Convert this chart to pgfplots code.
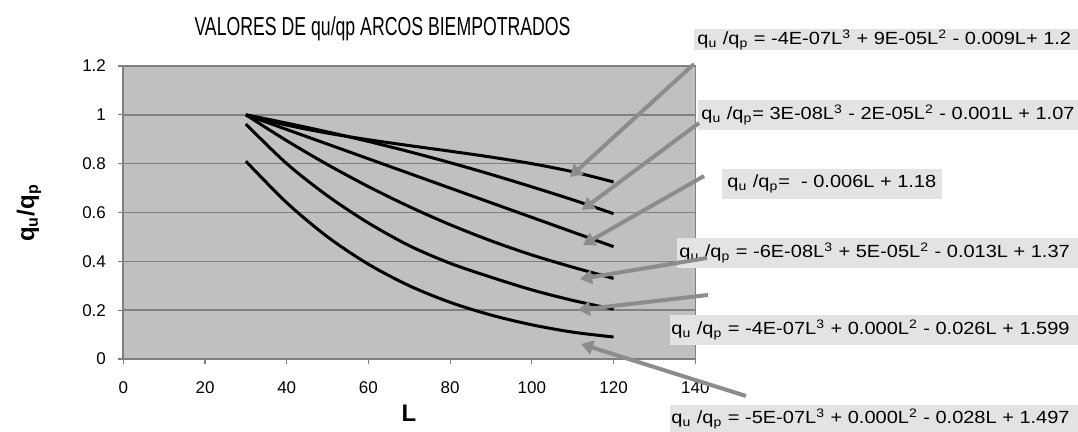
\documentclass[border=0pt]{standalone}
\usepackage{fontspec}
\setmainfont{Liberation Sans}
\usepackage{pgfplots}
\pgfplotsset{compat=1.18}
\usetikzlibrary{arrows.meta}

\definecolor{plotbg}{HTML}{C0C0C0}
\definecolor{gridc}{HTML}{808080}
\definecolor{arrowc}{HTML}{8C8C8C}
\definecolor{boxc}{HTML}{E3E3E3}
\newcommand{\eqfont}{\fontsize{10}{12}\selectfont}
\newcommand{\qq}{q\textsubscript{u} /q\textsubscript{p}}

\begin{document}
\begin{tikzpicture}
\begin{axis}[
  scale only axis, width=286pt, height=146.5pt,
  xmin=0, xmax=140, ymin=0, ymax=1.2,
  xtick={0,20,40,60,80,100,120,140},
  ytick={0,0.2,0.4,0.6,0.8,1,1.2},
  axis background/.style={fill=plotbg},
  ymajorgrids, grid style={gridc, line width=0.7pt},
  axis line style={gridc, line width=0.8pt},
  tick align=outside, tick pos=left, major tick length=2.5pt,
  tick style={gridc, line width=0.6pt},
  /pgf/number format/assume math mode=true,
  ticklabel style={font=\fontsize{8.5}{10}\selectfont},
  xticklabel style={anchor=center, yshift=-12pt},
  yticklabel style={anchor=east, inner sep=0pt, xshift=-6pt},
  clip=false,
]
% curves, L = 30 ... 120
\addplot[black, line width=1.5pt, smooth, no markers] coordinates {
  (30,1.000) (40,0.958) (50,0.925) (60,0.898) (70,0.874)
  (80,0.851) (90,0.827) (100,0.800) (110,0.767) (120,0.725)};
\addplot[black, line width=1.5pt, smooth, no markers] coordinates {
  (30,1.000) (40,0.966) (50,0.930) (60,0.891) (70,0.849)
  (80,0.804) (90,0.756) (100,0.705) (110,0.652) (120,0.595)};
\addplot[black, line width=1.5pt, smooth, no markers] coordinates {
  (30,1.000) (40,0.940) (50,0.880) (60,0.820) (70,0.760)
  (80,0.700) (90,0.640) (100,0.580) (110,0.520) (120,0.460)};
\addplot[black, line width=1.5pt, smooth, no markers] coordinates {
  (30,1.000) (40,0.894) (50,0.796) (60,0.706) (70,0.624)
  (80,0.550) (90,0.484) (100,0.426) (110,0.376) (120,0.330)};
\addplot[black, line width=1.5pt, smooth, no markers] coordinates {
  (30,0.962) (40,0.800) (50,0.668) (60,0.557) (70,0.464)
  (80,0.392) (90,0.335) (100,0.283) (110,0.240) (120,0.204)};
\addplot[black, line width=1.5pt, smooth, no markers] coordinates {
  (30,0.810) (40,0.640) (50,0.500) (60,0.388) (70,0.300)
  (80,0.232) (90,0.180) (100,0.140) (110,0.110) (120,0.090)};
\end{axis}

% annotations in pixel units of the original picture
\begin{scope}[x=0.5pt, y=-0.5pt, shift={(-123.3,-359)}]
  \node[font=\fontsize{13}{14}\selectfont] at (382.5,28.5)
    {\scalebox{0.68}[1]{VALORES DE qu/qp ARCOS BIEMPOTRADOS}};
  \node[rotate=90, font=\bfseries\fontsize{12}{14}\selectfont] at (29,213)
    {q\textsubscript{u}/q\textsubscript{p}};
  \node[anchor=north, inner sep=0pt, font=\bfseries\fontsize{12}{14}\selectfont] at (409,405) {L};

  \fill[boxc] (694,29) rectangle (1078,50);
  \fill[boxc] (698,100) rectangle (1078,130);
  \fill[boxc] (722,169) rectangle (942,199);
  \fill[boxc] (677,238) rectangle (1078,268);
  \fill[boxc] (670,315) rectangle (1078,345);
  \fill[boxc] (670,405) rectangle (1078,433);

  \begin{scope}[every node/.style={anchor=west, inner sep=0pt, font=\eqfont}]
  \node at (697,40) {\scalebox{1}[0.88]{\qq{} = -4E-07L\textsuperscript{3} + 9E-05L\textsuperscript{2} - 0.009L+ 1.2}};
  \node at (701,115) {\scalebox{1}[0.88]{\qq= 3E-08L\textsuperscript{3} - 2E-05L\textsuperscript{2} - 0.001L + 1.07}};
  \node at (727,184) {\scalebox{1}[0.88]{\qq=\ \ - 0.006L + 1.18}};
  \node at (679,253) {\scalebox{1}[0.88]{\qq{} = -6E-08L\textsuperscript{3} + 5E-05L\textsuperscript{2} - 0.013L + 1.37}};
  \node at (671,330) {\scalebox{1}[0.88]{\qq{} = -4E-07L\textsuperscript{3} + 0.000L\textsuperscript{2} - 0.026L + 1.599}};
  \node at (671,419) {\scalebox{1}[0.88]{\qq{} = -5E-07L\textsuperscript{3} + 0.000L\textsuperscript{2} - 0.028L + 1.497}};
  \end{scope}

  \begin{scope}[arrowc, line width=2pt, -{Triangle[length=6pt,width=7pt]}]
  \draw (694,64) -- (570,177);
  \draw (699,123) -- (582,210);
  \draw (704,176) -- (583,245);
  \draw (707,258) -- (580,279);
  \draw (708,295) -- (578,310);
  \draw (746,396) -- (581,344);
  \end{scope}

  \pgfresetboundingbox
  \useasboundingbox (0,0) rectangle (1078,432);
\end{scope}
\end{tikzpicture}
\end{document}
